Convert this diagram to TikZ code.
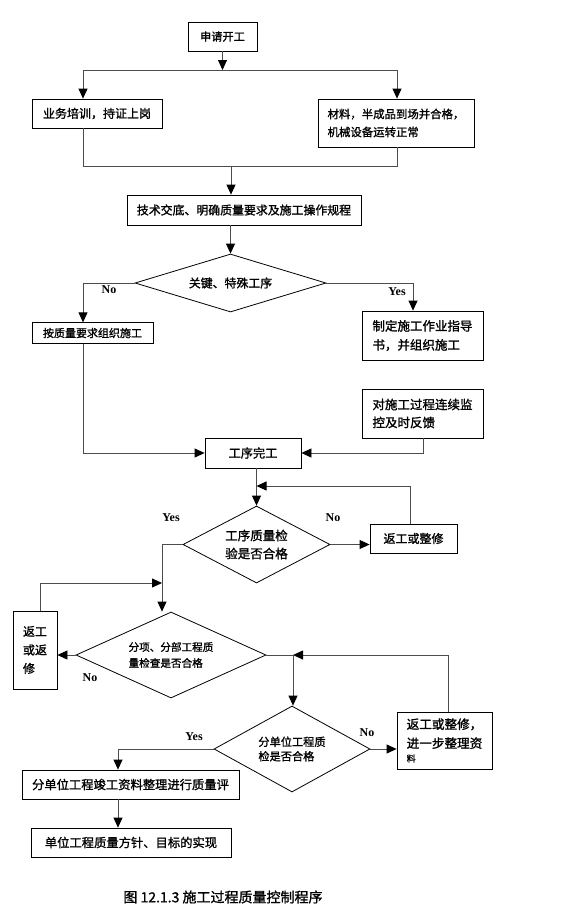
\documentclass[tikz,border=0pt]{standalone}
\usepackage{fontspec}
\setmainfont{Liberation Serif}
\newfontfamily\cjk[FakeBold=1.3]{Noto Sans CJK SC}
\usetikzlibrary{arrows.meta,shapes.geometric}
\newcommand\zhf[2]{\cjk\fontsize{#1}{#2}\selectfont}
\begin{document}
\begin{tikzpicture}[x=1pt,y=-1pt,
  box/.style={draw=black,line width=0.8pt,inner sep=0pt,align=left},
  dia/.style={draw=black,line width=0.8pt,diamond,inner sep=0pt,align=left},
  conn/.style={draw=black!70,line width=0.8pt},
  arr/.style={conn,-{Triangle[length=10pt,width=9pt,color=black]}},
  yn/.style={font=\bfseries\fontsize{12}{14}\selectfont,inner sep=0pt}]
\useasboundingbox (0,0) rectangle (576,921);
% nodes
\node[box,minimum width=69pt,minimum height=29pt,font={\zhf{11.2}{14}}] (start) at (222.5,36.5) {申请开工};
\node[box,minimum width=130pt,minimum height=29pt,font={\zhf{12}{14}}] (train) at (97,113.5) {业务培训，持证上岗};
\node[box,minimum width=156pt,minimum height=48pt,font={\zhf{11.4}{18}}] (mat) at (396,123) {材料，半成品到场并合格，\\机械设备运转正常};
\node[box,minimum width=234pt,minimum height=30pt,font={\zhf{11.9}{14}}] (tech) at (244,210) {技术交底、明确质量要求及施工操作规程};
\node[dia,minimum width=191pt,minimum height=58pt,shape aspect=3.3,font={\zhf{11.9}{14}}] (d1) at (230.5,283) {关键、特殊工序};
\node[box,minimum width=121pt,minimum height=20.5pt,font={\zhf{11}{13}}] (noqual) at (92.5,333) {按质量要求组织施工};
\node[box,minimum width=121pt,minimum height=49pt,font={\zhf{12.5}{19}}] (guide) at (422.5,335.5) {制定施工作业指导\\书，并组织施工};
\node[box,minimum width=121pt,minimum height=49pt,font={\zhf{12.5}{18}}] (monitor) at (422.5,413.5) {对施工过程连续监\\控及时反馈};
\node[box,minimum width=96pt,minimum height=30pt,font={\zhf{12.2}{14}}] (done) at (253,453) {工序完工};
\node[dia,minimum width=147pt,minimum height=77pt,shape aspect=1.9,font={\zhf{12.5}{18}}] (d2) at (256.5,544.5) {工序质量检\\验是否合格};
\node[box,minimum width=87pt,minimum height=29pt,font={\zhf{12}{14}}] (rw1) at (413.5,538.5) {返工或整修};
\node[box,minimum width=44pt,minimum height=78pt,font={\zhf{12}{18.5}}] (rw2) at (35,650) {返工\\或返\\修};
\node[dia,minimum width=190pt,minimum height=86pt,shape aspect=2.2,font={\zhf{10.6}{16}}] (d3) at (171,655) {分项、分部工程质\\量检查是否合格};
\node[dia,minimum width=156pt,minimum height=86pt,shape aspect=1.8,font={\zhf{11.2}{14.5}}] (d4) at (292,749) {分单位工程质\\检是否合格};
\node[box,minimum width=95pt,minimum height=57pt,font={\zhf{12.6}{19}}] (rw3) at (444.5,740.5) {返工或整修，\\进一步整理资\\[-5pt]{\zhf{9}{10}料}};
\node[box,minimum width=217pt,minimum height=29pt,font={\zhf{12.3}{14}}] (final1) at (130.5,784.5) {分单位工程竣工资料整理进行质量评};
\node[box,minimum width=200pt,minimum height=29pt,font={\zhf{12.3}{14}}] (final2) at (131,842.5) {单位工程质量方针、目标的实现};
\node[font={\zhf{14}{16}},inner sep=0pt] (cap) at (223,897) {图 12.1.3 施工过程质量控制程序};
% labels
\node[yn] (no1) at (109,290) {No};
\node[yn] (yes1) at (397,292) {Yes};
\node[yn] (yes2) at (171,518) {Yes};
\node[yn] (no2) at (333,518) {No};
\node[yn] (no3) at (90,678) {No};
\node[yn] (yes3) at (194,737) {Yes};
\node[yn] (no4) at (367,733) {No};
% connectors
\coordinate (j1) at (222.5,70);
\coordinate (j1l) at (83,70);
\coordinate (j1r) at (397,70);
\draw[arr] (start.south) -- (j1);
\draw[conn] (j1l) -- (j1r);
\draw[arr] (j1l) -- (j1l |- train.north);
\draw[arr] (j1r) -- (j1r |- mat.north);
\coordinate (j2l) at (83,166);
\coordinate (j2r) at (397,166);
\coordinate (j2) at (231,166);
\draw[conn] (j1l |- train.south) -- (j2l) -- (j2r) -- (j1r |- mat.south);
\draw[arr] (j2) -- (j2 |- tech.north);
\draw[arr] (d1.north |- tech.south) -- (d1.north);
\coordinate (k1) at (83,0);
\coordinate (k2) at (413,0);
\draw[arr] (d1.west) -| (k1 |- noqual.north);
\draw[arr] (d1.east) -| (k2 |- guide.north);
\draw[arr] (k1 |- noqual.south) |- (done.west);
\coordinate (k3) at (423,0);
\draw[arr] (k3 |- monitor.south) |- (done.east);
\draw[arr] (d2.north |- done.south) -- (d2.north);
\coordinate (k4) at (410,486);
\coordinate (k4b) at (256.5,486);
\draw[arr] (k4 |- rw1.north) -- (k4) -- (k4b);
\draw[arr] (d2.east) -- (d2.east -| rw1.west);
\coordinate (k5) at (162,0);
\draw[arr] (d2.west) -| (k5 |- d3.north);
\coordinate (k6) at (40,583);
\draw[arr] (k6 |- rw2.north) -- (k6) -- (k6 -| k5);
\draw[arr] (d3.west) -- (d3.west -| rw2.east);
\coordinate (k7) at (293,655);
\coordinate (k8) at (448,655);
\draw[conn] (d3.east) -- (k7);
\draw[arr] (k8 |- rw3.north) -- (k8) -- (k7);
\draw[arr] (k7) -- (k7 |- d4.north);
\draw[arr] (d4.east) -- (d4.east -| rw3.west);
\coordinate (k9) at (118,0);
\draw[arr] (d4.west) -| (k9 |- final1.north);
\draw[arr] (k9 |- final1.south) -- (k9 |- final2.north);
\end{tikzpicture}
\end{document}
